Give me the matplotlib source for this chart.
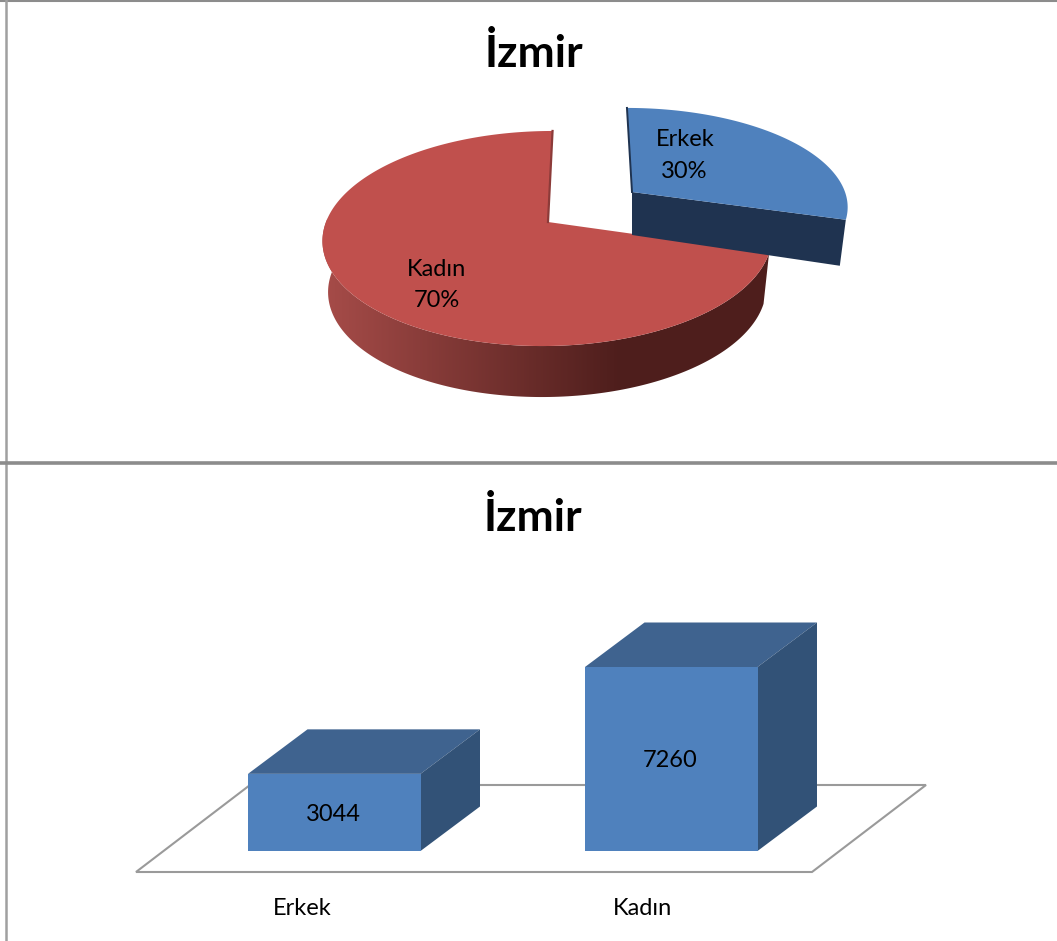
import numpy as np
import matplotlib
matplotlib.use('Agg')
import matplotlib.pyplot as plt
from matplotlib.patches import Polygon
from matplotlib.colors import LinearSegmentedColormap

categories = ['Erkek', 'Kadın']
counts = [3044, 7260]
title = 'İzmir'

plt.rcParams['font.family'] = ['Lato', 'DejaVu Sans']

fig = plt.figure(figsize=(10.57, 9.41), dpi=100)
ax = fig.add_axes([0, 0, 1, 1])
ax.axis('off')

BLUE = '#4F81BD'
RED = '#C0504D'
GRID = '#9A9A9A'


# projected circle: t is clockwise from the top, degrees
def ring(t, cx, cy, a, b, k, shear):
    t = np.radians(t)
    w = 1 + k * np.cos(t)
    y = -b * np.cos(t) / w
    x = a * np.sin(t) / w + shear * y
    return cx + x, cy + y


# panel frames
ax.plot([0, 1057], [0.5, 0.5], color='#8C8C8C', lw=1.5)
ax.plot([6, 6], [0, 941], color='#A0A0A0', lw=1.8)
ax.plot([0, 1057], [463, 463], color='#8C8C8C', lw=2.6)

# pie
shares = np.array(counts) / sum(counts)
span_red = 360 * shares[1]
t_end = 360 - span_red

red = dict(cx=548, cy=222, a=222, b=105, k=0.1535, shear=-0.05)
low = dict(red, cy=222 + 51, a=222 * 0.975)
blue = dict(cx=632, cy=192, a=213, b=95, k=0.13, shear=0.06)

# red wall with the shading going dark to the right
ts = np.linspace(t_end, 272, 160)
ux, uy = ring(ts, **red)
lx, ly = ring(ts, **low)
wall = Polygon(np.c_[np.r_[ux, lx[::-1]], np.r_[uy, ly[::-1]]], closed=True, fc='none', ec='none')
ax.add_patch(wall)
shade = LinearSegmentedColormap.from_list('shade', ['#A54B48', '#4E1E1C'])
grad = np.clip((np.arange(300, 800) - 328) / (620 - 328), 0, 1)[None, :]
im = ax.imshow(grad, cmap=shade, extent=(300, 800, 420, 200), aspect='auto', vmin=0, vmax=1)
im.set_clip_path(wall)

# red top
ts = np.linspace(t_end, 360, 240)
x, y = ring(ts, **red)
ax.add_patch(Polygon(np.r_[[[red['cx'], red['cy']]], np.c_[x, y]], closed=True, fc=RED, ec='none'))
ax.plot([x[-1], red['cx']], [y[-1], red['cy']], color='#8C3B39', lw=1.6)

# blue slice, pulled out
ts = np.linspace(0, t_end, 160)
x, y = ring(ts, **blue)
xb, yb = x[-1], y[-1]
ax.add_patch(Polygon([(blue['cx'], blue['cy']), (xb, yb), (xb - 6, yb + 46), (blue['cx'], blue['cy'] + 43)],
                     closed=True, fc='#1F3350', ec='none'))
ax.add_patch(Polygon(np.r_[[[blue['cx'], blue['cy']]], np.c_[x, y]], closed=True, fc=BLUE, ec='none'))
ax.plot([x[0], blue['cx']], [y[0], blue['cy']], color='#1F3350', lw=1.4)

ax.text(534, 53.5, title, fontsize=32, fontweight='bold', ha='center', va='center')
labels_pct = ['%d%%' % round(s * 100) for s in shares]
ax.text(685, 139.5, categories[0], fontsize=17, ha='center', va='center')
ax.text(684, 171.5, labels_pct[0], fontsize=17, ha='center', va='center')
ax.text(436.5, 269.5, categories[1], fontsize=17, ha='center', va='center')
ax.text(436.5, 300.5, labels_pct[1], fontsize=17, ha='center', va='center')

# bar chart floor
ax.add_patch(Polygon([(136, 872), (812, 872), (926, 785), (250, 785)], closed=True, fc='white', ec=GRID, lw=1.5))

# bars
base = 851
px_per_unit = 184 / 7260
lefts = [248, 585]
width = 172.5
dx, dy = 59.5, -44.5
for left, v, name in zip(lefts, counts, categories):
    h = v * px_per_unit
    top = base - h
    right = left + width
    ax.add_patch(Polygon([(left, top), (right, top), (right + dx, top + dy), (left + dx, top + dy)],
                         closed=True, fc='#3F638F', ec='none'))
    ax.add_patch(Polygon([(right, top), (right + dx, top + dy), (right + dx, base + dy), (right, base)],
                         closed=True, fc='#325277', ec='none'))
    ax.bar(left, -h, width=width, bottom=base, align='edge', color=BLUE, linewidth=0)
    ax.text(left + width / 2 - 1, base - h / 2 + (2.5 if v < 5000 else 1.5), str(v), fontsize=17, ha='center', va='center')
    ax.text(left + width / 2 + (-32 if v < 5000 else -29), 908.5, name, fontsize=17, ha='center', va='center')

ax.text(533, 517.5, title, fontsize=32, fontweight='bold', ha='center', va='center')

ax.set_xlim(0, 1057)
ax.set_ylim(941, 0)

fig.savefig('out.png', dpi=100)
